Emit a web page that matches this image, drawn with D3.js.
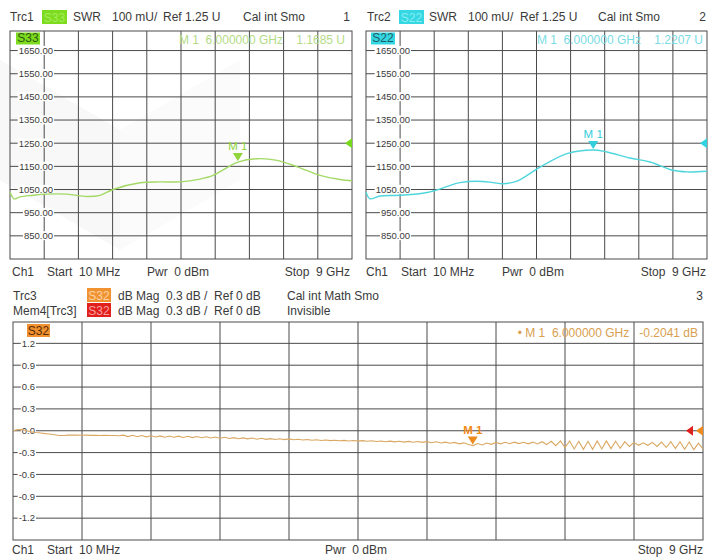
<!DOCTYPE html>
<html>
<head>
<meta charset="utf-8">
<script src="https://cdn.jsdelivr.net/npm/d3@7"></script>
<style>
  body { margin: 0; background: #fff; }
  svg { display: block; font-family: 'Liberation Sans', Arial, sans-serif; }
  text { white-space: pre; }
</style>
</head>
<body>
<div id="app"></div>
<script>
// sweep limits (GHz)
const sweepStart = 0.01
const sweepStop = 9
const markerFreq = 6

// Trc1 S33 SWR (mU)
const s33Freq = [0.01, 0.115, 0.27, 0.61, 0.93, 1.51, 2.03, 2.38, 2.72, 3.43, 3.95, 4.48, 5.0, 5.35, 5.74, 6.0, 6.5, 7.03, 7.58, 8.16, 8.68, 9.0]
const s33Swr = [1040, 1010, 1018, 1025, 1030, 1030, 1020, 1025, 1050, 1079, 1083, 1083, 1095, 1111, 1147, 1168.5, 1183, 1176, 1147, 1111, 1093, 1088]

// Trc2 S22 SWR (mU)
const s22Freq = [0.01, 0.115, 0.38, 0.88, 1.62, 2.49, 2.94, 3.36, 3.62, 3.99, 4.6, 5.31, 6.0, 6.36, 6.97, 7.5, 8.1, 8.47, 9.0]
const s22Swr = [1040, 1010, 1022, 1025, 1037, 1080, 1086, 1080, 1075, 1086, 1147, 1205, 1220.7, 1212, 1186, 1169, 1133, 1126, 1129]

// Trc3 S32 dB Mag, 151 sweep points from 10 MHz to 9 GHz
const s32Mag = [
  0.000, 0.015, 0.015, 0.000, -0.015, -0.025, -0.030, -0.040, -0.045, -0.055,
  -0.065, -0.065, -0.060, -0.060, -0.060, -0.062, -0.060, -0.063, -0.062, -0.065,
  -0.063, -0.066, -0.065, -0.068, -0.060, -0.080, -0.062, -0.082, -0.066, -0.084,
  -0.068, -0.086, -0.070, -0.088, -0.072, -0.090, -0.074, -0.092, -0.076, -0.094,
  -0.080, -0.096, -0.082, -0.100, -0.086, -0.102, -0.090, -0.106, -0.094, -0.110,
  -0.098, -0.112, -0.100, -0.116, -0.104, -0.118, -0.108, -0.120, -0.110, -0.122,
  -0.112, -0.124, -0.116, -0.126, -0.120, -0.130, -0.124, -0.134, -0.128, -0.136,
  -0.130, -0.138, -0.132, -0.140, -0.134, -0.142, -0.136, -0.144, -0.138, -0.148,
  -0.140, -0.150, -0.142, -0.152, -0.144, -0.156, -0.146, -0.158, -0.148, -0.160,
  -0.150, -0.164, -0.152, -0.168, -0.156, -0.172, -0.160, -0.180, -0.166, -0.190,
  -0.204, -0.176, -0.196, -0.168, -0.186, -0.160, -0.180, -0.158, -0.178, -0.156,
  -0.176, -0.158, -0.180, -0.156, -0.182, -0.150, -0.190, -0.145, -0.205, -0.140,
  -0.230, -0.140, -0.250, -0.145, -0.255, -0.145, -0.255, -0.140, -0.250, -0.140,
  -0.245, -0.145, -0.240, -0.150, -0.215, -0.160, -0.200, -0.165, -0.200, -0.160,
  -0.215, -0.155, -0.230, -0.150, -0.245, -0.150, -0.255, -0.155, -0.260, -0.170,
  -0.250
]
const s32Marker = -0.2041

// tick labels
const swrTicks = [1650, 1550, 1450, 1350, 1250, 1150, 1050, 950, 850]
const dbTicks = [1.2, 0.9, 0.6, 0.3, 0.0, -0.3, -0.6, -0.9, -1.2]

const width = 717
const height = 558
const textColor = '#3a3a3a'
const gridColor = '#4a4a4a'

const svg = d3.select('#app').append('svg').attr('width', width).attr('height', height)
svg.append('rect').attr('width', width).attr('height', height).attr('fill', '#fff')

// very faint watermark shapes
svg.append('path').attr('d', 'M0,60 L120,130 L120,250 L0,180 Z').attr('fill', '#f8f8f8')
svg.append('path').attr('d', 'M120,130 L240,60 L240,180 L120,250 Z').attr('fill', '#fbfbfb')

function addText(x, y, str, opts = {}) {
  return svg.append('text')
    .attr('x', x).attr('y', y)
    .attr('font-size', opts.size || 12)
    .attr('fill', opts.color || textColor)
    .attr('text-anchor', opts.anchor || 'start')
    .text(str)
}

// coloured trace-name box
function tag(x, y, w, h, bg, label, color) {
  svg.append('rect').attr('x', x).attr('y', y).attr('width', w).attr('height', h).attr('fill', bg)
  addText(x + w / 2, y + h - 2.5, label, { anchor: 'middle', color: color })
}

// label sitting on top of grid lines, with a white patch behind it
function axisLabel(x, y, str, size) {
  const t = addText(x, y, str, { size: size, anchor: 'end' }).attr('dy', '0.35em')
  const b = t.node().getBBox()
  svg.insert('rect', () => t.node())
    .attr('x', b.x - 1).attr('y', b.y + 1)
    .attr('width', b.width + 2).attr('height', b.height - 2)
    .attr('fill', '#fff')
}

function drawPanel(p) {
  const x = d3.scaleLinear().domain([sweepStart, sweepStop]).range([p.left, p.right])
  const y = d3.scaleLinear().domain(p.yDomain).range([p.bottom, p.yTop])
  const g = svg.append('g')

  // vertical grid, 10 divisions
  const xDiv = d3.range(1, 10).map((k) => sweepStart + (k * (sweepStop - sweepStart)) / 10)
  g.selectAll('line.vx').data(xDiv).enter().append('line')
    .attr('x1', (d) => x(d)).attr('x2', (d) => x(d))
    .attr('y1', p.top).attr('y2', p.bottom)
    .attr('stroke', gridColor).attr('stroke-width', 1)

  // horizontal grid
  g.selectAll('line.hy').data(p.ticks).enter().append('line')
    .attr('x1', p.left).attr('x2', p.right)
    .attr('y1', (d) => y(d)).attr('y2', (d) => y(d))
    .attr('stroke', gridColor).attr('stroke-width', 1)

  // frame
  g.append('rect')
    .attr('x', p.left).attr('y', p.top)
    .attr('width', p.right - p.left).attr('height', p.bottom - p.top)
    .attr('fill', 'none').attr('stroke', gridColor).attr('stroke-width', 1)

  p.ticks.forEach((d) => axisLabel(p.labelX, y(d), p.fmt(d), 9.5))

  // trace
  const line = d3.line().x((d) => x(d[0])).y((d) => y(d[1])).curve(p.curve)
  svg.append('path')
    .datum(p.data)
    .attr('d', line)
    .attr('fill', 'none')
    .attr('stroke', p.traceColor)
    .attr('stroke-width', p.traceWidth)

  // reference level arrow(s) on the right edge
  p.refs.forEach((r) => {
    const ry = y(p.refValue)
    svg.append('path')
      .attr('d', `M${r.x},${ry} l7,-5 l0,10 Z`)
      .attr('fill', r.color)
  })

  // marker M 1
  const mx = x(markerFreq)
  const my = y(p.markerValue)
  svg.append('path')
    .attr('d', `M${mx},${my - 1} l-5,-8 l10,0 Z`)
    .attr('fill', p.markerColor)
  addText(mx, my - 12, 'M 1', { anchor: 'middle', color: p.markerColor, size: 11.5 })
    .attr('font-weight', p.markerBold ? 'bold' : 'normal')

  return { x, y }
}

// ---------- Trc1 / S33 ----------
const s33Data = s33Freq.map((f, i) => [f, s33Swr[i]])
drawPanel({
  left: 10, right: 352, top: 31, bottom: 259, yTop: 27.4,
  yDomain: [750, 1750], ticks: swrTicks, fmt: (d) => d.toFixed(2), labelX: 53,
  data: s33Data, curve: d3.curveCatmullRom, traceColor: '#a3d965', traceWidth: 1.4,
  refValue: 1250, refs: [{ x: 345, color: '#78d81e' }],
  markerValue: 1168.5, markerColor: '#8fd43a'
})
addText(10, 21, 'Trc1')
tag(42, 10, 25, 14, '#7ddc1f', 'S33', '#a6ec5c')
addText(73, 21, 'SWR')
addText(112, 21, '100 mU/')
addText(163, 21, 'Ref 1.25 U')
addText(243, 21, 'Cal int Smo')
addText(350, 21, '1', { anchor: 'end' })
tag(16, 32.5, 24, 12, '#7ddc1f', 'S33', '#2f5a10')
addText(345, 44, 'M 1  6.000000 GHz    1.1685 U', { anchor: 'end', color: '#b4dc86' })
addText(12, 276, 'Ch1')
addText(47, 276, 'Start  10 MHz')
addText(147, 276, 'Pwr  0 dBm')
addText(350, 276, 'Stop  9 GHz', { anchor: 'end' })

// ---------- Trc2 / S22 ----------
const s22Data = s22Freq.map((f, i) => [f, s22Swr[i]])
drawPanel({
  left: 366, right: 707, top: 31, bottom: 259, yTop: 27.4,
  yDomain: [750, 1750], ticks: swrTicks, fmt: (d) => d.toFixed(2), labelX: 410,
  data: s22Data, curve: d3.curveCatmullRom, traceColor: '#4fd6dc', traceWidth: 1.4,
  refValue: 1250, refs: [{ x: 700, color: '#2fd4e0' }],
  markerValue: 1220.7, markerColor: '#33cedb'
})
addText(367, 21, 'Trc2')
tag(399, 10, 25, 14, '#35d8e2', 'S22', '#86ecf2')
addText(429, 21, 'SWR')
addText(468, 21, '100 mU/')
addText(520, 21, 'Ref 1.25 U')
addText(598, 21, 'Cal int Smo')
addText(706, 21, '2', { anchor: 'end' })
tag(371, 32.5, 24, 12, '#35d8e2', 'S22', '#1e5d66')
addText(703, 44, 'M 1  6.000000 GHz    1.2207 U', { anchor: 'end', color: '#7adce4' })
addText(366, 276, 'Ch1')
addText(401, 276, 'Start  10 MHz')
addText(502, 276, 'Pwr  0 dBm')
addText(706, 276, 'Stop  9 GHz', { anchor: 'end' })

// ---------- Trc3 / S32 ----------
const s32Step = (sweepStop - sweepStart) / (s32Mag.length - 1)
const s32Data = s32Mag.map((v, i) => [sweepStart + i * s32Step, v])
drawPanel({
  left: 13, right: 703, top: 322, bottom: 540, yTop: 321.5,
  yDomain: [-1.5, 1.5], ticks: dbTicks, fmt: (d) => d.toFixed(1), labelX: 35,
  data: s32Data, curve: d3.curveLinear, traceColor: '#d9a862', traceWidth: 1.1,
  refValue: 0, refs: [{ x: 686, color: '#e0201c' }, { x: 696, color: '#f08a1e' }],
  markerValue: s32Marker, markerColor: '#ef8a1c', markerBold: true
})
addText(13, 300, 'Trc3')
addText(13, 315, 'Mem4[Trc3]')
tag(87, 288, 24, 14, '#f09232', 'S32', '#fcd2a0')
tag(87, 303, 24, 14, '#e1201c', 'S32', '#f8a0a0')
addText(118, 300, 'dB Mag  0.3 dB /  Ref 0 dB')
addText(118, 315, 'dB Mag  0.3 dB /  Ref 0 dB')
addText(287, 300, 'Cal int Math Smo')
addText(287, 315, 'Invisible')
addText(703, 300, '3', { anchor: 'end' })
tag(27, 324, 23, 13, '#f09232', 'S32', '#5a2a00')
addText(698, 337, '• M 1  6.000000 GHz   -0.2041 dB', { anchor: 'end', color: '#d9a050' })
addText(12, 554, 'Ch1')
addText(47, 554, 'Start  10 MHz')
addText(325, 554, 'Pwr  0 dBm')
addText(703, 554, 'Stop  9 GHz', { anchor: 'end' })
</script>
</body>
</html>
